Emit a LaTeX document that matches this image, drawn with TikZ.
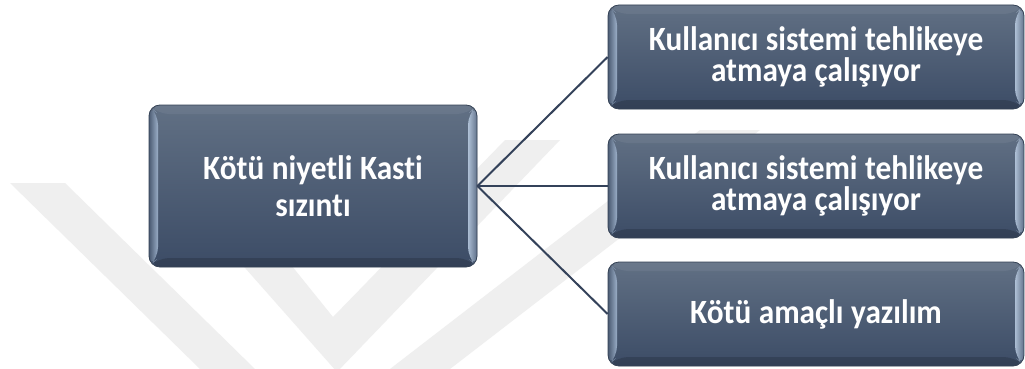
\documentclass[tikz,border=0pt]{standalone}
\usepackage{fontspec}
\setmainfont{Carlito}[Ligatures=NoCommon, FakeStretch=0.92]
\usetikzlibrary{calc}

\definecolor{boxtop}{HTML}{617084}
\definecolor{boxmid}{HTML}{4A5A72}
\definecolor{boxbot}{HTML}{3C4C66}
\definecolor{boxedge}{HTML}{354255}
\definecolor{bevlight}{HTML}{A9BDD6}
\definecolor{bevbright}{HTML}{C4D6EC}
\definecolor{linkcol}{HTML}{34425A}
\definecolor{wmark}{HTML}{EFEFEF}

% tighter word spacing and a given line pitch inside a box
\newcommand\boxlines[1]{\spaceskip=7.5pt\relax\setlength{\baselineskip}{#1}}

\tikzset{
  bevelbox/.style={
    rectangle, rounded corners=11pt, draw=boxedge, line width=0.8pt,
    top color=boxtop, bottom color=boxbot,
    text=white, font=\fontsize{34}{34}\bfseries\selectfont,
    align=center, inner sep=0pt,
    path picture={
      \def\bd{9pt}
      \coordinate (pnw) at (path picture bounding box.north west);
      \coordinate (pne) at (path picture bounding box.north east);
      \coordinate (psw) at (path picture bounding box.south west);
      \coordinate (pse) at (path picture bounding box.south east);
      % top face
      \fill[white, opacity=0.06] (pnw) -- (pne) -- ([xshift=-\bd,yshift=-\bd]pne)
        -- ([xshift=\bd,yshift=-\bd]pnw) -- cycle;
      % bottom face
      \fill[black, opacity=0.16] (psw) -- (pse) -- ([xshift=-\bd,yshift=\bd]pse)
        -- ([xshift=\bd,yshift=\bd]psw) -- cycle;
      % left face
      \shade[left color=boxmid, right color=bevlight, opacity=0.85]
        (pnw) -- ([xshift=\bd,yshift=-\bd]pnw) -- ([xshift=\bd,yshift=\bd]psw)
        -- (psw) -- cycle;
      % right face
      \shade[left color=bevbright, right color=boxmid!70!bevlight, opacity=0.8]
        ([xshift=-\bd,yshift=-\bd]pne) -- (pne) -- (pse)
        -- ([xshift=-\bd,yshift=\bd]pse) -- cycle;
    }
  },
  link/.style={draw=linkcol, line width=2pt},
  wband/.style={fill=wmark}
}

\begin{document}
\begin{tikzpicture}[x=1pt, y=-1pt]
  \useasboundingbox (0,0) rectangle (1025,369);
  \fill[white] (0,0) rectangle (1025,369);

  % faint chevron watermark behind the diagram
  \fill[wband] (10,183) -- (65,183) -- (255,369) -- (200,369) -- cycle;
  \fill[wband] (170,183) -- (337,372) -- (560,140) -- (505,140)
    -- (333,317) -- (225,183) -- cycle;
  \fill[wband] (390,369) -- (450,369) -- (760,130) -- (700,130) -- cycle;

  % boxes
  \node[bevelbox, minimum width=328pt, minimum height=162pt,
        text width=300pt, execute at begin node={\boxlines{37pt}}]
        (src) at (313,186) {Kötü niyetli Kasti\\ sızıntı};
  \node[bevelbox, minimum width=416pt, minimum height=104pt,
        text width=400pt, execute at begin node={\boxlines{31pt}}]
        (t1) at (816,57) {Kullanıcı sistemi tehlikeye\\ atmaya çalışıyor};
  \node[bevelbox, minimum width=416pt, minimum height=104pt,
        text width=400pt, execute at begin node={\boxlines{31pt}}]
        (t2) at (816,186) {Kullanıcı sistemi tehlikeye\\ atmaya çalışıyor};
  \node[bevelbox, minimum width=416pt, minimum height=104pt,
        text width=400pt, execute at begin node={\boxlines{31pt}}]
        (t3) at (816,314) {Kötü amaçlı yazılım};

  % connectors
  \draw[link] (src.east) -- (t1.west);
  \draw[link] (src.east) -- (t2.west);
  \draw[link] (src.east) -- (t3.west);
\end{tikzpicture}
\end{document}
